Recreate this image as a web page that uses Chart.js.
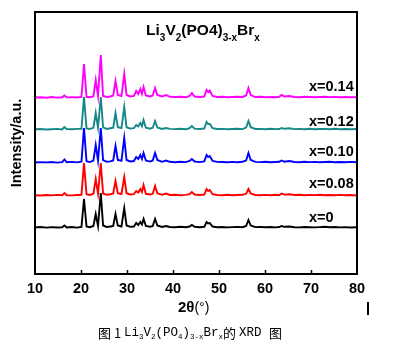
<!DOCTYPE html>
<html>
<head>
<meta charset="utf-8">
<script src="https://cdn.jsdelivr.net/npm/chart.js@4.4.0/dist/chart.umd.min.js"></script>
<style>
  html, body { margin: 0; padding: 0; background: #fff; }
  #box { width: 393px; height: 346px; position: relative; }
</style>
</head>
<body>
<div id="box"><canvas id="myChart"></canvas></div>
<script>
// 2θ positions shared by all patterns
const theta = [10, 11.2, 12.5, 13.6, 14.8, 15.9, 16.4, 16.9, 18.0, 19.1,
  20.1, 20.65, 21.2, 21.9, 22.7, 23.2, 23.7, 24.3, 24.8, 25.6,
  26.4, 27.0, 27.5, 28.0, 28.8, 29.4, 29.9, 30.7, 31.5, 32.0,
  32.45, 32.9, 33.25, 33.6, 34.1, 35.0, 35.6, 36.1, 36.6, 37.6,
  38.5, 39.3, 40.4, 41.6, 42.8, 43.6, 44.1, 44.7, 45.8, 46.8,
  47.3, 47.65, 48.0, 48.6, 49.6, 50.7, 51.8, 52.9, 54.0, 55.1,
  55.9, 56.4, 56.9, 57.9, 59.0, 60.1, 61.2, 62.3, 63.1, 63.6,
  64.2, 65.3, 66.4, 67.5, 68.6, 69.7, 70.8, 71.9, 73.0, 74.1,
  75.2, 76.3, 77.4, 78.5, 80];

const labels = ['x=0', 'x=0.08', 'x=0.10', 'x=0.12', 'x=0.14'];
const colors = ['#000000', '#ff0000', '#0000ff', '#168888', '#ff00ff'];
const offsets = [46, 78, 111, 144, 176]; // vertical shift of each pattern

const int_0 = [0.6, 1.0, 0.4, 0.9, 0.5, 0.8, 2.5, 0.5, 1.0, 0.4,
  1.0, 29, 1.5, 0.8, 2.0, 14, 2.0, 35, 2.5, 1.0,
  1.5, 2.0, 14, 2.5, 1.5, 20, 2.5, 1.2, 1.5, 5,
  3.0, 6, 3.5, 9, 2.0, 1.2, 2.0, 9, 2.5, 1.0,
  2.0, 1.0, 0.8, 1.2, 0.7, 1.5, 3, 1.2, 0.8, 1.2,
  6, 4.5, 5, 1.5, 0.8, 1.0, 0.6, 0.9, 1.1, 0.8,
  2.0, 8, 2.5, 0.9, 1.0, 0.7, 1.0, 0.6, 1.0, 2,
  1.2, 1.5, 0.8, 0.6, 1.0, 0.8, 0.6, 0.9, 1.2, 0.7,
  1.0, 0.6, 0.9, 0.5, 0.8];

const int_008 = [0.8, 0.5, 1.0, 0.6, 1.1, 0.7, 3, 0.8, 0.6, 1.0,
  1.2, 33, 1.8, 1.0, 2.2, 17, 2.2, 33, 2.5, 1.2,
  1.8, 2.5, 15, 2.8, 2.0, 19, 2.8, 1.5, 1.8, 5,
  3.5, 7, 4.0, 11, 2.2, 1.5, 2.2, 10, 2.8, 1.2,
  2.5, 1.0, 1.2, 0.8, 1.1, 1.8, 4, 1.5, 1.0, 1.5,
  7, 5, 6, 1.8, 1.0, 0.8, 1.2, 0.7, 1.0, 1.2,
  2.2, 7, 2.5, 1.0, 0.7, 1.1, 0.8, 1.2, 0.9, 2.5,
  1.4, 1.8, 1.0, 1.2, 0.7, 1.1, 0.9, 1.2, 0.8, 1.0,
  0.7, 1.1, 0.8, 1.0, 0.6];

const int_010 = [0.5, 0.9, 0.6, 1.0, 0.4, 0.9, 3.5, 0.7, 1.1, 0.6,
  1.3, 35, 1.8, 0.9, 2.5, 18, 2.5, 35, 2.8, 1.2,
  1.6, 2.5, 17, 3.0, 2.2, 25, 3.0, 1.5, 2.0, 6,
  4.0, 8, 4.0, 10, 2.5, 1.4, 2.5, 10, 3.0, 1.2,
  2.5, 1.2, 0.8, 1.3, 0.9, 2.0, 4, 1.5, 0.9, 1.6,
  8, 6, 7, 2.0, 1.1, 1.0, 0.7, 1.1, 0.8, 1.2,
  2.5, 10, 3.0, 1.1, 0.9, 1.2, 0.7, 1.0, 1.2, 2.5,
  1.3, 2.0, 1.0, 0.8, 1.2, 0.9, 1.1, 0.7, 1.0, 1.2,
  0.8, 1.0, 0.7, 1.1, 0.8];

const int_012 = [0.7, 1.0, 0.5, 0.8, 1.1, 0.6, 3, 0.9, 0.7, 1.1,
  1.2, 33, 1.6, 1.0, 2.2, 17, 2.4, 33, 2.6, 1.1,
  1.8, 2.3, 17, 2.8, 2.0, 23, 2.8, 1.4, 1.9, 5,
  3.6, 7, 3.8, 10, 2.3, 1.3, 2.3, 9, 2.6, 1.1,
  2.0, 1.1, 0.9, 1.2, 0.8, 1.8, 4, 1.4, 1.0, 1.5,
  8, 6, 6, 1.9, 1.0, 1.1, 0.8, 1.0, 1.2, 0.9,
  2.4, 9, 2.8, 1.0, 1.1, 0.8, 1.2, 0.9, 1.0, 2,
  1.2, 1.8, 0.9, 1.1, 0.8, 1.2, 0.7, 1.0, 1.1, 0.8,
  1.2, 0.7, 1.0, 0.8, 1.0];

const int_014 = [0.5, 0.8, 0.3, 1.0, 0.4, 0.8, 2.5, 0.6, 0.9, 0.5,
  1.0, 34, 1.2, 0.8, 1.5, 18, 2.0, 43, 2.0, 1.0,
  1.5, 2.5, 17, 3.0, 2.0, 24, 3.0, 1.5, 2.0, 7,
  4.0, 9, 4.0, 11, 2.5, 1.5, 2.5, 10, 3.0, 1.5,
  3.0, 1.2, 1.0, 1.2, 0.8, 2.0, 5, 1.5, 1.0, 1.5,
  8, 6, 7.5, 2.0, 1.0, 1.2, 0.8, 1.0, 1.2, 1.0,
  2.5, 10, 3.0, 1.0, 1.2, 0.8, 1.0, 0.8, 1.2, 3,
  1.5, 2.0, 1.0, 0.8, 1.2, 1.0, 0.8, 1.0, 1.3, 0.9,
  1.1, 0.8, 1.0, 0.7, 0.9];

const xTicks = [10, 20, 30, 40, 50, 60, 70, 80];

const series = [int_0, int_008, int_010, int_012, int_014];

// Texto extra: moldura, títulos, rótulos das curvas, legenda da figura
const extras = {
  id: 'extras',
  afterDraw(chart) {
    const c = chart.ctx;
    const a = chart.chartArea;
    const xs = chart.scales.x;
    c.save();
    // moldura
    c.strokeStyle = '#000';
    c.lineWidth = 2;
    c.strokeRect(a.left, a.top, a.right - a.left, a.bottom - a.top);
    // ticks para dentro
    c.lineWidth = 1.5;
    xTicks.slice(1, -1).forEach(v => {
      const px = Math.round(xs.getPixelForValue(v)) + 0.5;
      c.beginPath();
      c.moveTo(px, a.bottom);
      c.lineTo(px, a.bottom - 4);
      c.stroke();
    });

    c.fillStyle = '#000';
    c.textBaseline = 'middle';

    // título com subscritos
    const parts = [['Li', 0], ['3', 1], ['V', 0], ['2', 1], ['(PO4)', 0], ['3-x', 1], ['Br', 0], ['x', 1]];
    const big = 'bold 15.5px "Liberation Sans", Arial, sans-serif';
    const small = 'bold 10px "Liberation Sans", Arial, sans-serif';
    let w = 0;
    parts.forEach(p => { c.font = p[1] ? small : big; w += c.measureText(p[0]).width; });
    let x = 203 - w / 2;
    c.textAlign = 'left';
    parts.forEach(p => {
      c.font = p[1] ? small : big;
      c.fillText(p[0], x, p[1] ? 38 : 31);
      x += c.measureText(p[0]).width;
    });

    // rótulos das curvas
    c.font = 'bold 14.5px "Liberation Sans", Arial, sans-serif';
    const ly = [218, 184, 152, 122, 87];
    labels.forEach((t, i) => c.fillText(t, 309, ly[i]));

    // eixo y
    c.save();
    c.translate(17, 143);
    c.rotate(-Math.PI / 2);
    c.textAlign = 'center';
    c.font = 'bold 14.5px "Liberation Sans", Arial, sans-serif';
    c.fillText('Intensity/a.u.', 0, 0);
    c.restore();

    // eixo x
    c.textAlign = 'left';
    c.font = 'bold 15px "Liberation Sans", Arial, sans-serif';
    c.fillText('2θ', 178, 308);
    let tw = c.measureText('2θ').width;
    c.font = '14px "Liberation Sans", Arial, sans-serif';
    c.fillText('(°)', 178 + tw, 308);

    // barra solta
    c.fillRect(367, 302, 2, 13);

    // legenda da figura
    const cap = [['图 1 ', 'z'], ['Li', 'm'], ['3', 's'], ['V', 'm'], ['2', 's'], ['(PO', 'm'], ['4', 's'], [')', 'm'],
      ['3-x', 's'], ['Br', 'm'], ['x', 's'], ['的 ', 'z'], ['XRD ', 'm'], ['图', 'z']];
    const fonts = {
      z: '13px "Noto Sans CJK SC", sans-serif',
      m: '12.5px "Liberation Mono", "DejaVu Sans Mono", monospace',
      s: '7.5px "Liberation Mono", "DejaVu Sans Mono", monospace'
    };
    x = 98;
    cap.forEach(p => {
      c.font = fonts[p[1]];
      c.fillText(p[0], x, p[1] === 's' ? 337 : 333);
      x += c.measureText(p[0]).width;
    });
    c.restore();
  }
};

const ctx = document.getElementById('myChart').getContext('2d');

const datasets = series.map((arr, k) => ({
  label: labels[k],
  data: arr.map((v, i) => ({ x: theta[i], y: offsets[k] + v })),
  borderColor: colors[k],
  borderWidth: 1.9,
  pointRadius: 0,
  tension: 0,
  fill: false
}));

chart = new Chart(ctx, {
  type: 'line',
  data: { datasets: datasets },
  options: {
    responsive: true,
    maintainAspectRatio: false,
    animation: false,
    layout: { padding: { left: 35, right: 36, top: 12, bottom: 0 } },
    plugins: { legend: { display: false }, tooltip: { enabled: false } },
    scales: {
      x: {
        type: 'linear',
        min: 10,
        max: 80,
        afterFit: s => { s.height = 72; },
        afterBuildTicks: s => { s.ticks = xTicks.map(v => ({ value: v })); },
        grid: { display: false, drawTicks: false },
        border: { display: false },
        ticks: {
          padding: 6,
          color: '#000',
          font: { size: 14.5, weight: 'bold', family: '"Liberation Sans", Arial' }
        }
      },
      y: {
        display: false,
        min: 0,
        max: 262
      }
    }
  },
  plugins: [extras]
});
</script>
</body>
</html>
